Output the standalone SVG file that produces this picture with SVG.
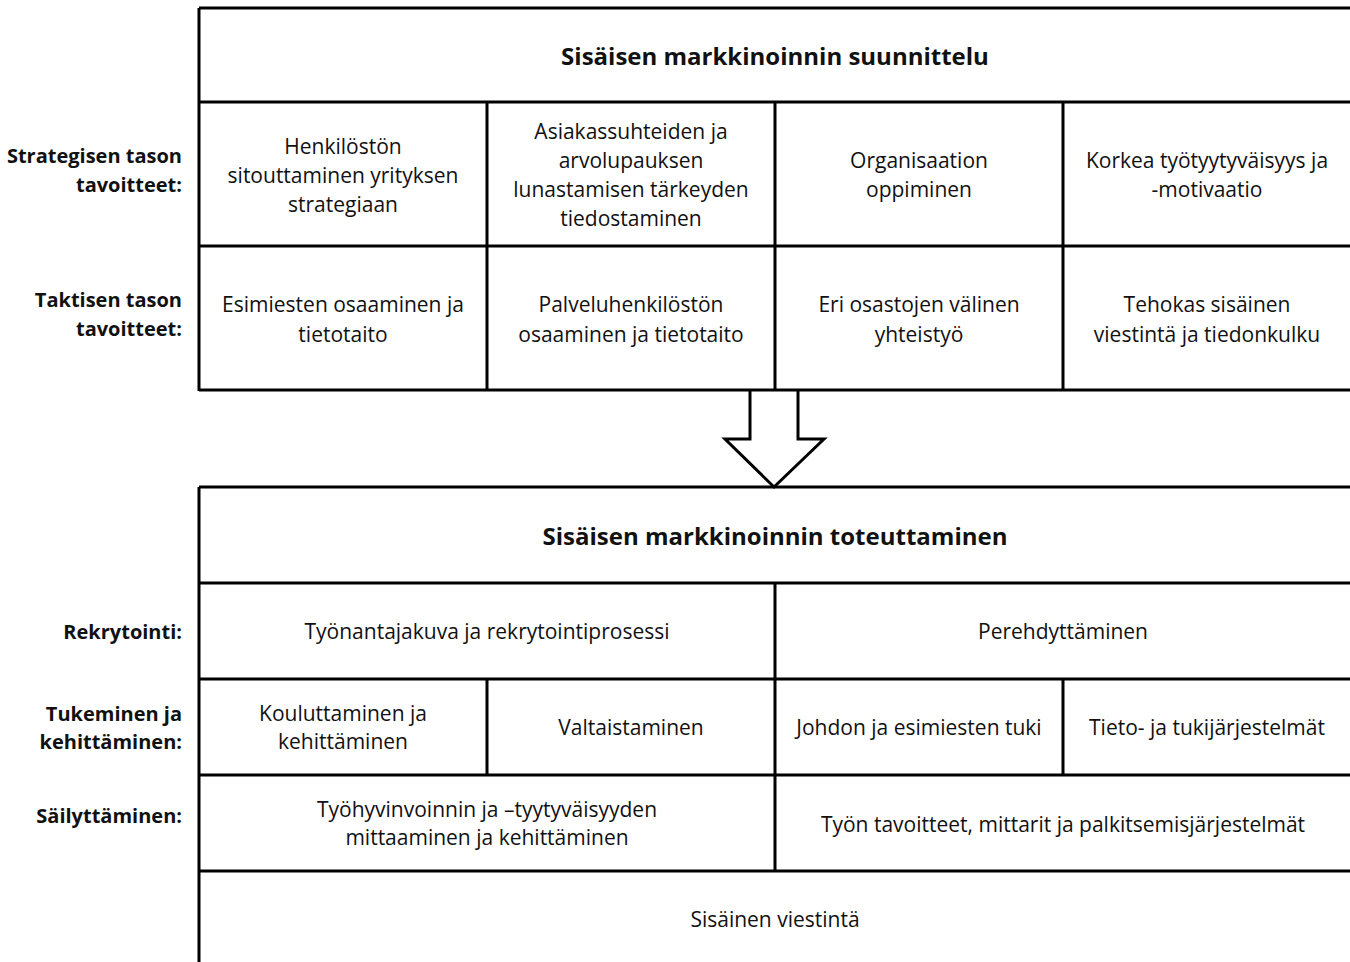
<svg xmlns="http://www.w3.org/2000/svg" width="1350" height="962" viewBox="0 0 1350 962">
  <style>
    .grid { stroke: #000; stroke-width: 3; fill: none; }
    .t { font-family: "Open Sans", "Noto Sans", sans-serif; font-size: 21px; fill: #111; text-anchor: middle; }
    .h { font-family: "Open Sans", "Noto Sans", sans-serif; font-size: 24px; font-weight: bold; fill: #111; text-anchor: middle; }
    .l { font-family: "Open Sans", "Noto Sans", sans-serif; font-size: 20px; font-weight: bold; fill: #111; text-anchor: end; }
  </style>
  <rect width="1350" height="962" fill="#fff"/>

  <!-- Block arrow between the tables (drawn first so table lines stay on top) -->
  <g id="connectors">
    <path d="M750,390 V439 H725 L774,487 L824,439 H798 V390" fill="#fff" stroke="#000" stroke-width="3" stroke-linejoin="miter"/>
  </g>

  <!-- Planning table -->
  <g id="planning-table">
    <path class="grid" d="M199,8 H1352 M199,8 V391 M199,102 H1352 M199,246 H1352 M199,390 H1352 M487,102 V390 M775,102 V390 M1063,102 V390"/>
    <text class="h" x="775" y="65">Sisäisen markkinoinnin suunnittelu</text>
  </g>

  <g id="row-labels-top">
    <text class="l" x="182" y="163">Strategisen tason</text>
    <text class="l" x="182" y="192">tavoitteet:</text>
    <text class="l" x="182" y="307">Taktisen tason</text>
    <text class="l" x="182" y="336">tavoitteet:</text>
  </g>

  <g id="strategic-goals">
    <text class="t" x="343" y="154">Henkilöstön</text>
    <text class="t" x="343" y="183">sitouttaminen yrityksen</text>
    <text class="t" x="343" y="212">strategiaan</text>
    <text class="t" x="631" y="139">Asiakassuhteiden ja</text>
    <text class="t" x="631" y="168">arvolupauksen</text>
    <text class="t" x="631" y="197">lunastamisen tärkeyden</text>
    <text class="t" x="631" y="226">tiedostaminen</text>
    <text class="t" x="919" y="168">Organisaation</text>
    <text class="t" x="919" y="197">oppiminen</text>
    <text class="t" x="1207" y="168">Korkea työtyytyväisyys ja</text>
    <text class="t" x="1207" y="197">-motivaatio</text>
  </g>

  <g id="tactical-goals">
    <text class="t" x="343" y="312">Esimiesten osaaminen ja</text>
    <text class="t" x="343" y="342">tietotaito</text>
    <text class="t" x="631" y="312">Palveluhenkilöstön</text>
    <text class="t" x="631" y="342">osaaminen ja tietotaito</text>
    <text class="t" x="919" y="312">Eri osastojen välinen</text>
    <text class="t" x="919" y="342">yhteistyö</text>
    <text class="t" x="1207" y="312">Tehokas sisäinen</text>
    <text class="t" x="1207" y="342">viestintä ja tiedonkulku</text>
  </g>

  <!-- Implementation table -->
  <g id="implementation-table">
    <path class="grid" d="M199,487 H1352 M199,487 V962 M199,583 H1352 M199,679 H1352 M199,775 H1352 M199,871 H1352 M775,583 V871 M487,679 V775 M1063,679 V775"/>
    <text class="h" x="775" y="545">Sisäisen markkinoinnin toteuttaminen</text>
  </g>

  <g id="row-labels-bottom">
    <text class="l" x="182" y="639">Rekrytointi:</text>
    <text class="l" x="182" y="721">Tukeminen ja</text>
    <text class="l" x="182" y="749">kehittäminen:</text>
    <text class="l" x="182" y="823">Säilyttäminen:</text>
  </g>

  <g id="recruitment">
    <text class="t" x="487" y="639">Työnantajakuva ja rekrytointiprosessi</text>
    <text class="t" x="1063" y="639">Perehdyttäminen</text>
  </g>

  <g id="support">
    <text class="t" x="343" y="721">Kouluttaminen ja</text>
    <text class="t" x="343" y="749">kehittäminen</text>
    <text class="t" x="631" y="735">Valtaistaminen</text>
    <text class="t" x="919" y="735">Johdon ja esimiesten tuki</text>
    <text class="t" x="1207" y="735">Tieto- ja tukijärjestelmät</text>
  </g>

  <g id="retention">
    <text class="t" x="487" y="817">Työhyvinvoinnin ja –tyytyväisyyden</text>
    <text class="t" x="487" y="845">mittaaminen ja kehittäminen</text>
    <text class="t" x="1063" y="832">Työn tavoitteet, mittarit ja palkitsemisjärjestelmät</text>
  </g>

  <g id="communication">
    <text class="t" x="775" y="927">Sisäinen viestintä</text>
  </g>
</svg>
